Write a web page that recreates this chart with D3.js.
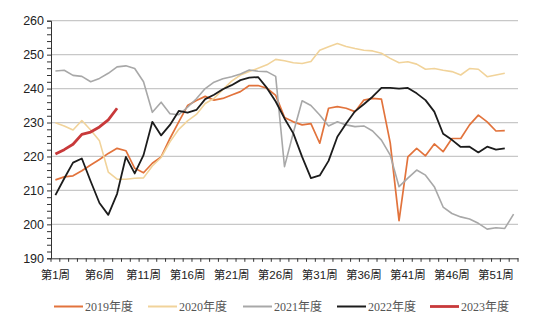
<!DOCTYPE html>
<html><head><meta charset="utf-8">
<script src="https://cdn.jsdelivr.net/npm/d3@7"></script>
<style>
html,body{margin:0;padding:0;background:#fff;}
svg{display:block;}
</style></head>
<body>
<svg id="c" width="550" height="330"></svg>
<script>
const weeks = d3.range(1, 54).map(i => "第" + i + "周");
const tickWeeks = ["第1周","第6周","第11周","第16周","第21周","第26周","第31周","第36周","第41周","第46周","第51周"];
const yTicks = [190,200,210,220,230,240,250,260];

const s2019 = [213.1,214.0,214.3,215.8,217.5,219.1,220.9,222.4,221.7,216.5,215.2,218.0,219.9,225.3,230.2,235.0,236.5,237.7,236.6,237.1,238.1,239.1,240.9,240.9,240.1,238.0,231.5,230.2,229.3,229.7,223.9,234.2,234.7,234.2,233.2,236.6,237.1,236.9,224.0,201.1,219.9,222.4,220.2,223.7,221.4,225.3,225.3,229.3,232.2,230.2,227.5,227.6];
const s2020 = [229.9,229.0,227.8,230.6,227.8,224.6,215.4,213.3,213.3,213.6,213.7,217.2,219.7,224.3,228.0,230.5,232.4,235.6,237.1,239.7,242.2,244.0,245.0,246.0,247.0,248.6,248.2,247.6,247.4,248.0,251.3,252.3,253.3,252.4,251.8,251.3,251.1,250.4,248.9,247.6,247.9,247.2,245.7,245.9,245.4,245.0,244.0,245.9,245.7,243.5,244.0,244.5];
const s2021 = [245.2,245.4,243.9,243.6,242.0,243.0,244.5,246.4,246.7,245.9,242.0,233.0,236.0,232.6,232.3,234.5,237.0,240.0,241.9,242.9,243.5,244.3,245.5,245.1,245.0,243.6,217.0,227.0,236.4,235.0,232.2,229.0,230.2,229.3,228.8,229.0,227.5,224.8,220.4,211.1,213.6,216.0,214.5,211.1,205.1,203.2,202.2,201.6,200.3,198.6,199.0,198.8,203.0];
const s2022 = [208.6,213.5,218.2,219.4,212.7,206.3,202.8,209.0,219.9,215.0,220.4,230.2,226.2,229.3,233.4,232.9,233.7,236.9,238.2,239.8,241.0,242.5,243.2,243.4,240.2,236.2,231.2,226.8,219.9,213.6,214.4,218.7,225.8,229.7,233.3,235.4,237.6,240.2,240.2,240.0,240.2,238.6,236.6,233.2,226.7,224.9,222.8,222.9,221.2,222.9,222.0,222.4];
const s2023 = [220.7,222.0,223.6,226.5,227.2,228.7,230.8,234.2];

const seriesNames = ["2019年度","2020年度","2021年度","2022年度","2023年度"];
const seriesData = [s2019, s2020, s2021, s2022, s2023];
const colors = ["#E2733C","#F1D39A","#A8A8A8","#1C1C1C","#C8393A"];
const widths = [1.7,1.6,1.6,1.8,2.8];

const svg = d3.select("#c");
const mLeft = 51, mRight = 518, mTop = 20.7, mBottom = 258.3;

const x = d3.scaleBand().domain(weeks).range([mLeft, mRight]).padding(0);
const y = d3.scaleLinear().domain([190, 260]).range([mBottom, mTop]);
const cx = w => x(w) + x.bandwidth() / 2;

// gridlines
svg.append("g").selectAll("line").data(yTicks.filter(v => v > 190)).join("line")
  .attr("x1", mLeft).attr("x2", mRight)
  .attr("y1", d => y(d)).attr("y2", d => y(d))
  .attr("stroke", "#C8C8C8").attr("stroke-width", 1.2);

// y axis with minor ticks
const yMinor = d3.range(190, 261, 2);
const ya = svg.append("g").attr("transform", `translate(${mLeft},0)`)
  .call(d3.axisLeft(y).tickValues(yMinor).tickSize(4).tickFormat(d => yTicks.includes(d) ? d : ""));
ya.select(".domain").attr("stroke", "#333");
ya.selectAll(".tick line").attr("stroke", "#333");
ya.selectAll(".tick text").attr("font-family", "Liberation Sans, Arial, sans-serif")
  .attr("font-size", 12.5).attr("fill", "#222").attr("x", -7);

// x axis
const xa = svg.append("g").attr("transform", `translate(0,${mBottom})`)
  .call(d3.axisBottom(x).tickValues(tickWeeks).tickSize(0).tickPadding(13));
xa.select(".domain").attr("stroke", "#333");
xa.selectAll(".tick text").attr("font-family", "Liberation Sans, 'Noto Sans CJK SC', sans-serif")
  .attr("font-size", 11.5).attr("fill", "#222");
// minor ticks at week boundaries
const bounds = weeks.map(w => x(w)).concat([x(weeks[weeks.length - 1]) + x.bandwidth()]);
svg.append("g").selectAll("line").data(bounds).join("line")
  .attr("x1", d => d).attr("x2", d => d)
  .attr("y1", mBottom).attr("y2", mBottom + 3.5)
  .attr("stroke", "#333").attr("stroke-width", 1);

// lines
const line = d3.line().defined(d => d[1] != null).x(d => cx(d[0])).y(d => y(d[1]));
seriesData.forEach((s, i) => {
  svg.append("path")
    .datum(s.map((v, j) => [weeks[j], v]))
    .attr("fill", "none").attr("stroke", colors[i]).attr("stroke-width", widths[i])
    .attr("stroke-linejoin", "round").attr("d", line);
});

// legend
const legX = [54, 148, 243, 337, 430];
const legY = 306.5;
const lg = svg.append("g");
seriesNames.forEach((n, i) => {
  lg.append("line").attr("x1", legX[i]).attr("x2", legX[i] + 29)
    .attr("y1", legY).attr("y2", legY)
    .attr("stroke", colors[i]).attr("stroke-width", i === 4 ? 2.8 : 2);
  lg.append("text").attr("x", legX[i] + 31).attr("y", legY + 4.5)
    .attr("font-family", "Liberation Serif, 'Noto Sans CJK SC', serif")
    .attr("font-size", 12).attr("fill", "#555").text(n);
});
</script>
</body></html>
